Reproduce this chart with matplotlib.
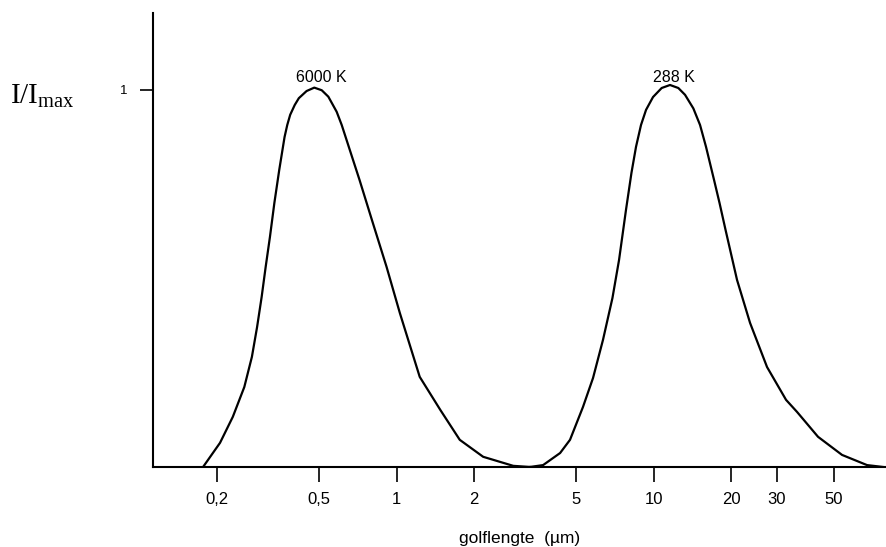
#Normalised Planck curves for the sun (6000 K) and the earth (288 K)
import numpy as np
import matplotlib
matplotlib.use('Agg')
import matplotlib.pyplot as plt

plt.rcParams['font.family'] = ['Liberation Sans', 'DejaVu Sans']
plt.rcParams['mathtext.fontset'] = 'custom'
plt.rcParams['mathtext.rm'] = 'Liberation Serif'
plt.rcParams['mathtext.it'] = 'Liberation Serif'

#wavelength in micrometre, intensity relative to the maximum
sun_wl = [0.177, 0.206, 0.231, 0.256, 0.274, 0.287, 0.299, 0.310, 0.322, 0.335,
          0.350, 0.367, 0.376, 0.386, 0.402, 0.417, 0.447, 0.479, 0.512, 0.543,
          0.585, 0.612, 0.645, 0.718, 0.802, 0.914, 1.03, 1.23, 1.48, 1.76,
          2.17, 2.84, 3.30]
sun_I = [0.0, 0.064, 0.133, 0.212, 0.292, 0.371, 0.451, 0.531, 0.610, 0.700,
         0.788, 0.875, 0.907, 0.934, 0.960, 0.978, 0.997, 1.006, 0.999, 0.982,
         0.942, 0.907, 0.859, 0.761, 0.655, 0.531, 0.408, 0.239, 0.151, 0.072,
         0.027, 0.003, 0.0]

earth_wl = [3.30, 3.71, 4.32, 4.72, 5.30, 5.80, 6.34, 6.90, 7.32, 7.79,
            8.18, 8.52, 8.91, 9.32, 9.92, 10.72, 11.55, 12.44, 13.21, 14.23,
            15.11, 15.94, 17.13, 17.99, 18.98, 21.04, 23.64, 27.52, 32.62, 35.99,
            43.43, 53.83, 67.32, 77.69]
earth_I = [0.0, 0.005, 0.037, 0.072, 0.159, 0.236, 0.337, 0.448, 0.549, 0.682,
           0.780, 0.849, 0.907, 0.947, 0.981, 1.005, 1.013, 1.005, 0.987, 0.951,
           0.907, 0.849, 0.761, 0.700, 0.629, 0.496, 0.382, 0.265, 0.178, 0.146,
           0.080, 0.032, 0.005, 0.0]

xticks = [0.2, 0.5, 1, 2, 5, 10, 20, 30, 50]
xticklabels = ['0,2', '0,5', '1', '2', '5', '10', '20', '30', '50']

fig = plt.figure(figsize=(8.87, 5.47), dpi=100)
ax = fig.add_axes([0.1725, 0.1463, 0.8275, 0.83])

ax.plot(sun_wl, sun_I, color='black', lw=1.6, solid_joinstyle='round')
ax.plot(earth_wl, earth_I, color='black', lw=1.6, solid_joinstyle='round')

ax.set_xscale('log')
ax.set_xlim(0.1131, 80.5)
ax.set_ylim(0, 1.204)

ax.set_xticks(xticks)
ax.set_xticklabels(xticklabels)
ax.xaxis.set_minor_locator(matplotlib.ticker.NullLocator())
ax.set_yticks([1])
ax.set_yticklabels(['1'])

for s in ['top', 'right']:
    ax.spines[s].set_visible(False)
for s in ['left', 'bottom']:
    ax.spines[s].set_linewidth(1.5)

ax.tick_params(axis='x', length=11, width=1.2, pad=7, labelsize=12)
ax.tick_params(axis='y', length=9.5, width=1.2, pad=9, labelsize=9.5)

ax.text(0.508, 1.032, '6000 K', ha='center', va='center', fontsize=11.5)
ax.text(11.97, 1.034, '288 K', ha='center', va='center', fontsize=11.5)

ax.set_xlabel('golflengte  (\u00b5m)', fontsize=12.5, labelpad=17)
fig.text(0.011, 0.825, r'$\mathrm{I/I_{max}}$', fontsize=21, ha='left', va='center')

fig.savefig('out.png', dpi=100)
